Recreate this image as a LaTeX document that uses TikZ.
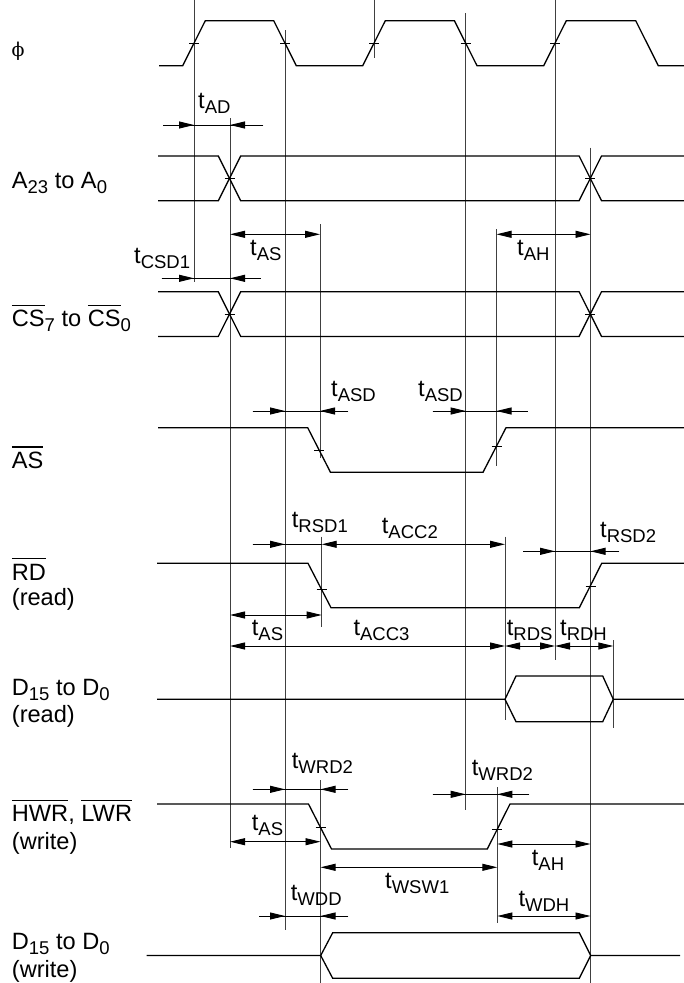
\documentclass[tikz,border=0pt]{standalone}
\usepackage{fontspec}
\setmainfont{Liberation Sans}
\newfontfamily\phifont{DejaVu Serif}
\usetikzlibrary{arrows.meta}
\newsavebox\ovbox
\newcommand\ovl[1]{\sbox\ovbox{#1}\rlap{\rule[20.8pt]{\wd\ovbox}{1.2pt}}\usebox\ovbox}
\newcommand\sbs[1]{\raisebox{-5pt}[\height][0pt]{\fontsize{18.5}{18.5}\selectfont #1}}
\newcommand\tsub[1]{t\sbs{#1}}
\begin{document}
\begin{tikzpicture}[x=1pt,y=-1pt,
  sig/.style={line width=1.3pt, line join=miter},
  vl/.style={line width=0.8pt, black!75},
  dim/.style={line width=0.9pt},
  tk/.style={line width=0.8pt},
  lbl/.style={inner sep=0pt, anchor=base west, font=\fontsize{23.6}{27}\selectfont},
  >={Triangle[length=15pt,width=7pt]}]
\useasboundingbox (0,0) rectangle (684,983);

% ---------- vertical timing lines ----------
\draw[vl] (194,0) -- (194,282);
\draw[vl] (230,118) -- (230,848);
\draw[vl] (285,30) -- (285,930);
\draw[vl] (374,0) -- (374,58);
\draw[vl] (465.7,13) -- (465.7,810);
\draw[vl] (555,0) -- (555,660);
\draw[vl] (590.5,147.7) -- (590.5,983);
\draw[vl] (320,224) -- (320,458);
\draw[vl] (496.5,229) -- (496.5,466);
\draw[vl] (321.7,536.7) -- (321.7,626.7);
\draw[vl] (505,536.7) -- (505,720);
\draw[vl] (613.3,640) -- (613.3,728.3);
\draw[vl] (320.5,780) -- (320.5,983);
\draw[vl] (497.3,787.3) -- (497.3,923.3);

% ---------- waveforms ----------
% phi
\draw[sig] (159,65.7) -- (182.7,65.7) -- (205.3,20.7) -- (273.7,20.7) -- (296.3,65.7)
  -- (362.7,65.7) -- (385.3,20.7) -- (454.4,20.7) -- (477,65.7) -- (543.7,65.7)
  -- (566.3,20.7) -- (635.7,20.7) -- (658.3,65.7) -- (684,65.7);
\foreach \x in {194,285,374,465.7,555} \draw[tk] (\x-5,43.5) -- (\x+5,43.5);

% A23 to A0
\draw[sig] (158,156) -- (218.3,156) -- (240.7,200.7) -- (579.1,200.7) -- (601.5,156) -- (684,156);
\draw[sig] (158,200.7) -- (218.3,200.7) -- (240.7,156) -- (579.1,156) -- (601.5,200.7) -- (684,200.7);
\draw[tk] (224.5,178.3) -- (234.5,178.3);
\draw[tk] (585.3,178.3) -- (595.3,178.3);

% CS
\draw[sig] (158,291.7) -- (218.3,291.7) -- (240.7,336.4) -- (579.1,336.4) -- (601.5,291.7) -- (684,291.7);
\draw[sig] (158,336.4) -- (218.3,336.4) -- (240.7,291.7) -- (579.1,291.7) -- (601.5,336.4) -- (684,336.4);
\draw[tk] (224.5,314) -- (234.5,314);
\draw[tk] (585.3,314) -- (595.3,314);

% AS
\draw[sig] (158,427.7) -- (307.7,427.7) -- (330.5,472.3) -- (483,472.3) -- (506,427.7) -- (684,427.7);
\draw[tk] (314.3,450.6) -- (324.3,450.6);
\draw[tk] (491.5,446.4) -- (501.5,446.4);

% RD
\draw[sig] (157,563.3) -- (308,563.3) -- (331,607.7) -- (579.3,607.7) -- (601.7,563.3) -- (684,563.3);
\draw[tk] (316.7,589.5) -- (326.7,589.5);
\draw[tk] (585.5,586.5) -- (595.5,586.5);

% D15 read
\draw[sig] (157,699.3) -- (505,699.3) -- (516,676) -- (602.7,676) -- (613.3,699.3) -- (684,699.3);
\draw[sig] (505,699.3) -- (516,721.7) -- (602.7,721.7) -- (613.3,699.3);

% HWR, LWR
\draw[sig] (157,804) -- (308.5,804) -- (331.5,849) -- (487.3,849) -- (510,804) -- (684,804);
\draw[tk] (315.5,827.5) -- (325.5,827.5);
\draw[tk] (492.3,829) -- (502.3,829);

% D15 write
\draw[sig] (146.7,955.5) -- (320.7,955.5) -- (332.7,932.7) -- (579.3,932.7) -- (590.7,955.5) -- (680,955.5);
\draw[sig] (320.7,955.5) -- (332.7,978.3) -- (579.3,978.3) -- (590.7,955.5);

% ---------- dimension arrows ----------
% tAD
\draw[dim] (163.3,125) -- (263.3,125);
\draw[dim,->] (163.3,125) -- (194,125);
\draw[dim,->] (263.3,125) -- (230,125);
% tCSD1
\draw[dim] (161.7,278.3) -- (260.7,278.3);
\draw[dim,->] (161.7,278.3) -- (194,278.3);
\draw[dim,->] (260.7,278.3) -- (230,278.3);
% tAS, tAH
\draw[dim,<->] (230,234.3) -- (320,234.3);
\draw[dim,<->] (496.5,234.3) -- (590.5,234.3);
% tASD
\draw[dim] (252.7,411) -- (348.3,411);
\draw[dim,->] (252.7,411) -- (285,411);
\draw[dim,->] (348.3,411) -- (320,411);
\draw[dim] (432.7,411) -- (527.7,411);
\draw[dim,->] (432.7,411) -- (465.7,411);
\draw[dim,->] (527.7,411) -- (496.5,411);
% tRSD1, tACC2
\draw[dim] (252.7,544.3) -- (321.7,544.3);
\draw[dim,->] (252.7,544.3) -- (285,544.3);
\draw[dim,<->] (321.7,544.3) -- (505,544.3);
% tRSD2
\draw[dim] (523.3,551.3) -- (619.3,551.3);
\draw[dim,->] (523.3,551.3) -- (555,551.3);
\draw[dim,->] (619.3,551.3) -- (590.5,551.3);
% tAS (read)
\draw[dim,<->] (230,615) -- (321.7,615);
% tACC3, tRDS, tRDH
\draw[dim,<->] (230,646) -- (505,646);
\draw[dim,<->] (505,646) -- (555,646);
\draw[dim,<->] (555,646) -- (613.3,646);
% tWRD2
\draw[dim] (252.7,789.3) -- (348.3,789.3);
\draw[dim,->] (252.7,789.3) -- (285,789.3);
\draw[dim,->] (348.3,789.3) -- (320.5,789.3);
\draw[dim] (432.7,794.3) -- (529.3,794.3);
\draw[dim,->] (432.7,794.3) -- (465.7,794.3);
\draw[dim,->] (529.3,794.3) -- (497.3,794.3);
% tAS, tAH (write)
\draw[dim,<->] (230,841.7) -- (320.5,841.7);
\draw[dim,<->] (497.3,844) -- (590.5,844);
% tWSW1
\draw[dim,<->] (320.5,867.3) -- (497.3,867.3);
% tWDD
\draw[dim] (259.3,916) -- (348.3,916);
\draw[dim,->] (259.3,916) -- (285,916);
\draw[dim,->] (348.3,916) -- (320.5,916);
% tWDH
\draw[dim,<->] (497.3,916) -- (590.5,916);

% ---------- timing labels ----------
\node[lbl] (lAD) at (198,108) {\tsub{AD}};
\node[lbl] (lCSD) at (134,263) {\tsub{CSD1}};
\node[lbl] (lAS1) at (250,255) {\tsub{AS}};
\node[lbl] (lAH1) at (517,255) {\tsub{AH}};
\node[lbl] (lASD1) at (331,396) {\tsub{ASD}};
\node[lbl] (lASD2) at (418,396) {\tsub{ASD}};
\node[lbl] (lRSD1) at (291.7,527.7) {\tsub{RSD1}};
\node[lbl] (lACC2) at (381.7,533.3) {\tsub{ACC2}};
\node[lbl] (lRSD2) at (600,537.7) {\tsub{RSD2}};
\node[lbl] (lAS2) at (251.7,635) {\tsub{AS}};
\node[lbl] (lACC3) at (353.3,635) {\tsub{ACC3}};
\node[lbl] (lRDS) at (506.7,635) {\tsub{RDS}};
\node[lbl] (lRDH) at (560,635) {\tsub{RDH}};
\node[lbl] (lWRD1) at (291.7,768.3) {\tsub{WRD2}};
\node[lbl] (lWRD2) at (471.7,775.7) {\tsub{WRD2}};
\node[lbl] (lAS3) at (251.7,830) {\tsub{AS}};
\node[lbl] (lAH2) at (531.7,865) {\tsub{AH}};
\node[lbl] (lWSW) at (385,888.3) {\tsub{WSW1}};
\node[lbl] (lWDD) at (290.7,900) {\tsub{WDD}};
\node[lbl] (lWDH) at (518.3,906.7) {\tsub{WDH}};

% ---------- signal names ----------
\node[inner sep=0pt, anchor=west, font=\phifont\fontsize{19}{19}\selectfont] (sphi) at (11.5,51.7) {ϕ};
\node[lbl] (sA) at (11.7,188.3) {A\sbs{23} to A\sbs{0}};
\node[lbl] (sCS) at (11.7,326.7) {\ovl{CS}\sbs{7} to \ovl{CS}\sbs{0}};
\node[lbl] (sAS) at (11.7,468.3) {\ovl{AS}};
\node[lbl] (sRD) at (11.7,580) {\ovl{RD}};
\node[lbl] (sRD2) at (11.7,605) {(read)};
\node[lbl] (sDR) at (11.7,695.2) {D\sbs{15} to D\sbs{0}};
\node[lbl] (sDR2) at (11.7,722) {(read)};
\node[lbl] (sWR) at (11.7,821.7) {\ovl{HWR}, \ovl{LWR}};
\node[lbl] (sWR2) at (11.7,849.5) {(write)};
\node[lbl] (sDW) at (11.7,949.5) {D\sbs{15} to D\sbs{0}};
\node[lbl] (sDW2) at (11.7,977.5) {(write)};
\end{tikzpicture}
\end{document}
